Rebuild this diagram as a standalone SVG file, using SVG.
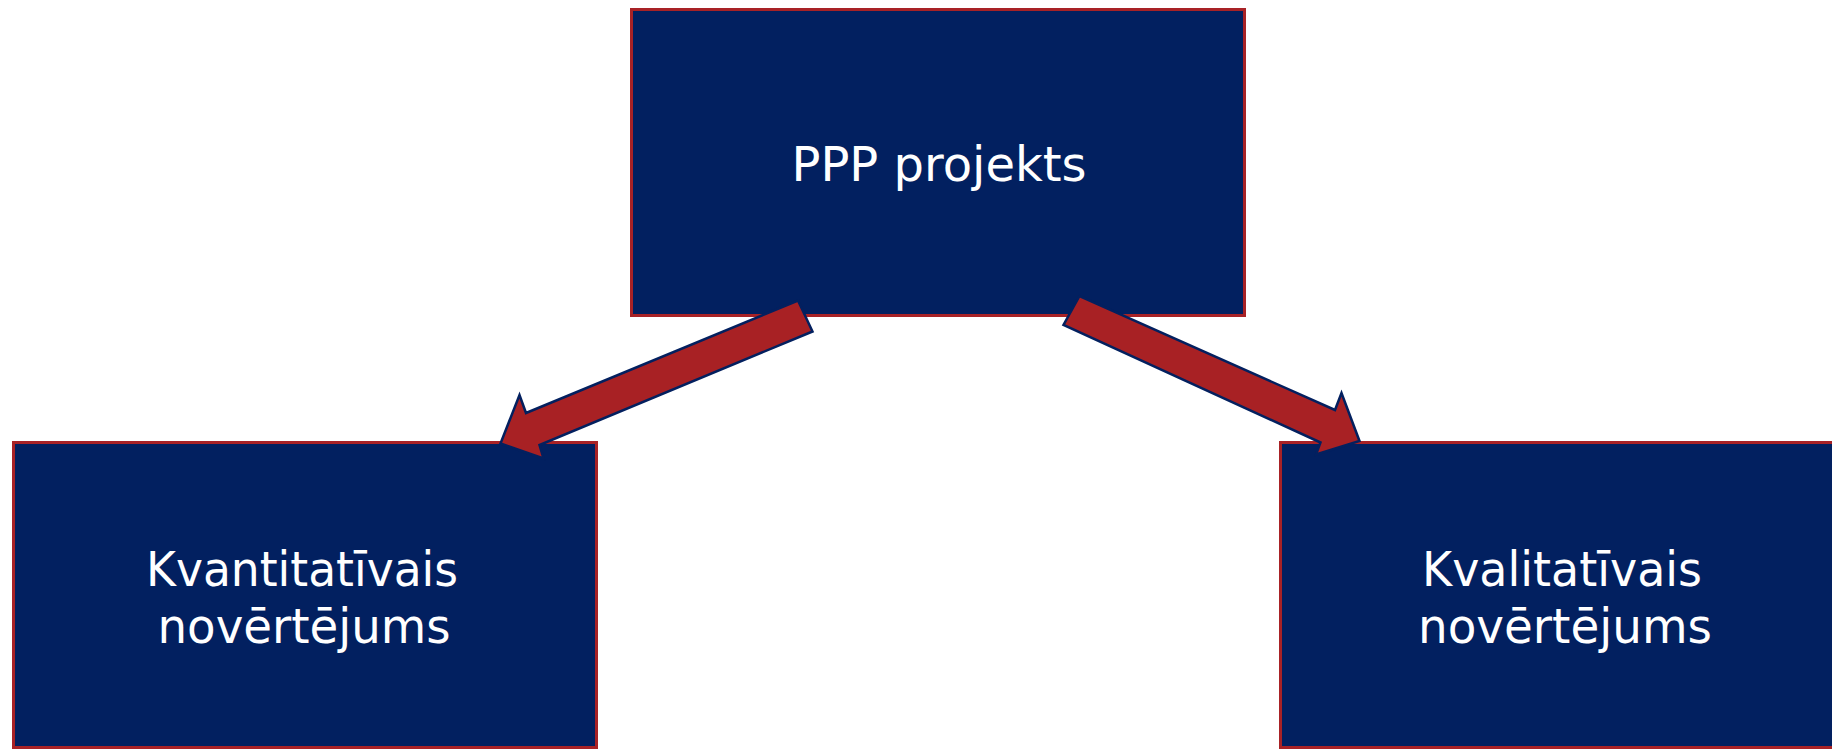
<svg xmlns="http://www.w3.org/2000/svg" width="1832" height="749" viewBox="0 0 1832 749">
<style>
.box{fill:#022060;stroke:#A82226;stroke-width:3}
.lbl{fill:#ffffff;font-family:"DejaVu Sans",Verdana,sans-serif;font-size:48px;text-anchor:middle}
.arrow{fill:#A82124;stroke:#03205F;stroke-width:2.5;stroke-linejoin:miter}
</style>
<rect width="1832" height="749" fill="#ffffff"/>
<g id="node-ppp">
<rect class="box" x="631.5" y="9.5" width="613" height="306"/>
<text class="lbl" x="939" y="181">PPP projekts</text>
</g>
<g id="node-kvant">
<rect class="box" x="13.5" y="442.5" width="583" height="305"/>
<text class="lbl" x="302" y="586" textLength="312" lengthAdjust="spacingAndGlyphs">Kvantitatīvais</text>
<text class="lbl" x="304" y="643" textLength="293" lengthAdjust="spacingAndGlyphs">novērtējums</text>
</g>
<g id="node-kval">
<rect class="box" x="1280.5" y="442.5" width="565" height="305"/>
<text class="lbl" x="1562" y="586" textLength="280" lengthAdjust="spacingAndGlyphs">Kvalitatīvais</text>
<text class="lbl" x="1565" y="643" textLength="294" lengthAdjust="spacingAndGlyphs">novērtējums</text>
</g>
<g id="connectors">
<polygon class="arrow" points="798,300.5 812.5,331.5 539.5,445 543.5,458.5 500.5,443.5 519.5,395 526,413"/>
<polygon class="arrow" points="1079.5,296 1063.5,325 1320.5,442.5 1316,454.5 1359.5,441 1341.5,393 1335,410"/>
</g>
</svg>
